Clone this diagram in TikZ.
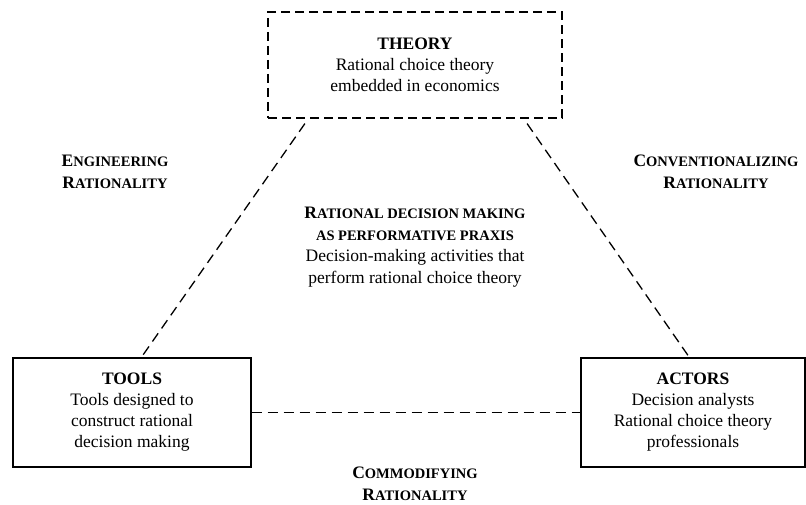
\documentclass[tikz,border=0pt]{standalone}
\usepackage{fontspec}
\setmainfont{Liberation Serif}
\usetikzlibrary{positioning}

\newcommand{\fsc}[2]{{\fontsize{17.5}{21.5}\selectfont #1}{\fontsize{14.5}{21.5}\selectfont #2}}

\tikzset{
	box/.style={draw, line width=1.3pt, align=center, inner sep=0pt, font=\fontsize{17.5}{21}\selectfont},
	lbl/.style={align=center, inner sep=0pt, font=\fontsize{17.5}{21.5}\selectfont\bfseries},
	link/.style={line width=1.3pt, dash pattern=on 10pt off 6pt}
}

\begin{document}
\begin{tikzpicture}[x=1pt, y=-1pt]
		\useasboundingbox (0,0) rectangle (806,505);
		
		\node[box, dash pattern=on 9pt off 5pt, minimum width=294pt, minimum height=106pt] (theory) at (415,65) {\textbf{THEORY}\\Rational choice theory\\embedded in economics};
		\node[box, minimum width=238pt, minimum height=109pt] (tools) at (132,412.5) {\textbf{TOOLS}\\Tools designed to\\construct rational\\decision making};
		\node[box, minimum width=224pt, minimum height=109pt] (actors) at (693,412.5) {\textbf{ACTORS}\\Decision analysts\\Rational choice theory\\professionals};
		
		\node[lbl] (praxis) at (415,247) {\fsc{R}{ATIONAL DECISION MAKING}\\\fsc{}{AS PERFORMATIVE PRAXIS}\\\mdseries Decision-making activities that\\\mdseries perform rational choice theory};
		
		\node[lbl] (engineering) at (115,172) {\fsc{E}{NGINEERING}\\\fsc{R}{ATIONALITY}};
		\node[lbl] (conventionalizing) at (716,172) {\fsc{C}{ONVENTIONALIZING}\\\fsc{R}{ATIONALITY}};
		\node[lbl] (commodifying) at (415,484) {\fsc{C}{OMMODIFYING}\\\fsc{R}{ATIONALITY}};
		
		\draw[link, shorten <=6pt] ([xshift=41pt]theory.south west) -- ([xshift=129pt]tools.north west);
		\draw[link, shorten <=6pt] ([xshift=-39pt]theory.south east) -- ([xshift=109pt]actors.north west);
		\draw[link] (tools.east) -- (actors.west);
	\end{tikzpicture}
\end{document}
